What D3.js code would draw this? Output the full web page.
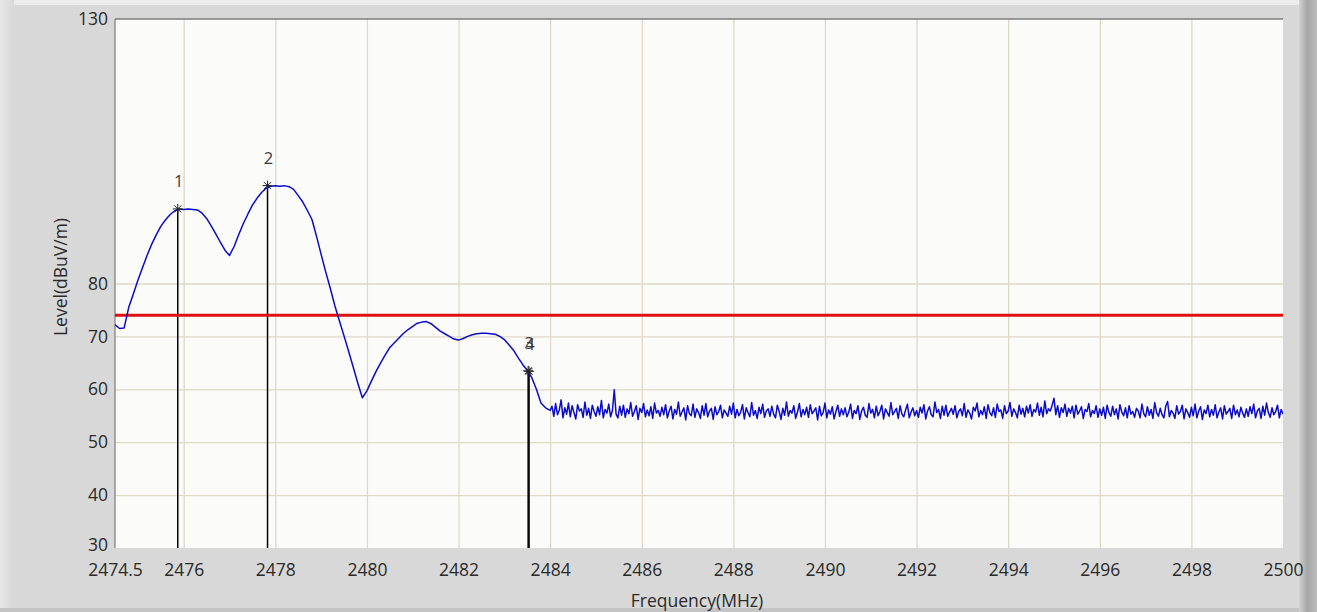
<!DOCTYPE html>
<html>
<head>
<meta charset="utf-8">
<script src="https://cdn.jsdelivr.net/npm/d3@7/dist/d3.min.js"></script>
<style>
  html, body { margin: 0; padding: 0; background: #d8d8d8; }
  svg { display: block; }
  text { font-family: "Open Sans", "DejaVu Sans", sans-serif; }
</style>
</head>
<body>
<svg id="chart" width="1317" height="612"></svg>
<script>
// ---------------- DATA ----------------
const xTickValues = [2474.5, 2476, 2478, 2480, 2482, 2484, 2486, 2488, 2490, 2492, 2494, 2496, 2498, 2500];
const yTickValues = [30, 40, 50, 60, 70, 80, 130];
const xGridValues = [2476, 2478, 2480, 2482, 2484, 2486, 2488, 2490, 2492, 2494, 2496, 2498];
const yGridValues = [40, 50, 60, 70, 80];

const xTitle = "Frequency(MHz)";
const yTitle = "Level(dBuV/m)";

const limitLevel = 74;

// Main signal region, sampled every 0.1 MHz from 2474.5 MHz
const smoothStart = 2474.5;
const smoothStep = 0.1;
const smoothLevels = [
  72.2, 71.5, 71.6, 75.5, 78.0, 80.6, 83.0, 85.3, 87.4, 89.2,
  90.8, 92.0, 93.0, 93.7, 94.1, 94.0, 94.1, 94.0, 93.9, 93.3,
  92.3, 90.9, 89.4, 87.8, 86.3, 85.3, 87.0, 89.2, 91.3, 93.1,
  94.8, 96.1, 97.2, 98.0, 98.4, 98.5, 98.4, 98.5, 98.3, 97.8,
  96.6, 95.4, 93.8, 92.1, 88.9, 85.5, 82.2, 79.1, 75.8, 72.9,
  70.1, 67.2, 64.2, 61.2, 58.4, 59.7, 61.6, 63.4, 65.0, 66.5,
  67.9, 68.8, 69.7, 70.6, 71.3, 71.9, 72.5, 72.7, 72.8, 72.4,
  71.7, 71.0, 70.5, 70.0, 69.5, 69.3, 69.6, 70.0, 70.3, 70.5,
  70.6, 70.6, 70.5, 70.4, 70.0, 69.4, 68.4, 67.4, 66.0, 64.7,
  63.6, 62.2, 60.0, 57.4, 56.5, 56.0
];

// Noise floor, sampled every 0.04 MHz from 2484.04 MHz
const noiseStart = 2484.04;
const noiseStep = 0.04;
const noiseLevels = [
  56.8,54.9,57.3,55.2,56.1,58.0,54.6,56.5,55.3,57.4,54.8,56.9,55.6,54.4,57.1,55.9,56.3,54.7,57.6,55.1,
  56.4,54.5,57.0,55.8,54.9,56.7,55.2,57.9,54.6,56.2,55.5,57.2,54.8,56.0,59.9,55.3,54.6,56.8,55.1,57.0,
  54.7,56.3,55.4,57.5,54.9,55.8,56.9,54.3,56.4,55.6,57.3,54.8,56.1,55.0,56.7,54.5,57.4,55.5,56.0,54.9,
  56.6,55.2,57.1,54.6,55.9,56.8,54.4,56.2,55.3,57.6,54.9,55.7,56.5,54.2,56.9,55.4,55.0,57.2,54.7,56.3,
  55.6,54.5,56.9,55.1,57.3,54.8,55.9,56.4,54.3,56.7,55.2,55.8,57.0,54.6,56.1,55.5,54.9,56.8,55.3,57.4,
  54.6,56.2,55.0,55.7,57.1,54.4,56.5,55.6,54.8,57.5,55.1,56.0,54.5,56.6,55.4,57.2,54.7,55.9,56.3,54.9,
  56.8,55.3,54.6,57.0,55.8,54.3,56.4,55.1,57.6,54.9,56.0,55.5,56.9,54.5,55.7,57.3,54.8,56.2,55.2,56.6,
  54.7,57.1,55.4,55.9,56.5,54.2,56.8,55.0,55.6,57.4,54.6,56.1,55.3,56.7,54.4,55.8,57.0,54.9,56.3,55.2,
  56.5,54.8,55.7,57.2,54.5,56.0,55.4,56.9,54.3,55.9,56.6,55.1,54.7,57.3,55.5,56.2,54.6,56.8,55.0,55.8,
  57.0,54.4,56.3,55.6,54.9,57.5,55.2,55.8,56.4,54.5,56.9,55.3,54.8,56.1,57.2,54.6,55.7,56.5,55.0,56.0,
  54.7,56.6,55.5,57.1,54.4,55.9,56.7,55.2,54.8,57.6,55.6,56.2,54.5,56.8,55.1,57.0,54.9,55.7,56.4,55.3,
  56.9,54.6,55.8,56.3,55.0,57.3,54.7,56.1,55.5,54.4,56.6,55.9,57.4,54.8,56.0,55.2,56.7,54.5,57.1,55.6,
  55.0,56.5,54.7,57.2,55.8,56.1,54.5,56.9,55.4,55.9,57.5,54.9,56.3,55.6,54.6,57.0,55.3,56.4,54.8,56.8,
  55.5,57.1,54.9,56.2,55.7,57.4,55.1,56.6,54.8,57.8,55.4,56.3,55.9,57.0,58.3,55.2,56.9,54.7,56.5,55.6,
  57.2,54.9,56.4,55.5,56.8,54.6,57.0,55.3,55.9,56.7,54.5,56.2,55.8,57.3,54.8,56.0,55.4,56.9,54.7,56.3,
  55.1,56.6,54.5,57.0,55.6,54.9,56.8,55.2,56.3,54.4,57.1,55.7,55.0,56.5,54.6,56.9,55.3,55.8,54.7,56.4,
  55.9,54.6,57.2,55.4,54.8,56.7,55.1,56.2,54.5,57.5,55.6,54.9,56.4,55.2,54.6,56.8,57.7,54.8,56.0,55.5,
  54.5,56.9,55.3,55.8,57.0,54.4,56.3,55.6,54.7,56.6,55.0,57.2,54.6,55.9,56.7,54.3,56.1,55.4,57.0,54.8,
  56.2,55.1,57.1,54.6,55.7,56.5,54.4,56.9,55.3,55.8,56.4,54.5,57.0,55.2,56.1,54.8,56.6,55.5,54.7,56.3,
  54.9,56.7,55.4,57.2,54.6,55.9,56.4,54.5,56.8,55.1,57.4,55.6,54.7,56.5,55.2,55.8,57.0,54.6,56.2,55.3
];

// Markers
const markerLabels = ["1", "2", "3", "4"];
const markerFreqs  = [2475.87, 2477.83, 2483.52, 2483.54];
const markerLevels = [94.1, 98.5, 63.5, 63.4];

// ---------------- DRAW ----------------
const W = 1317, H = 612;
const plot = { left: 115, top: 19, right: 1283, bottom: 548 };

const svg = d3.select("#chart");

// background panel shading
const defs = svg.append("defs");
const gR = defs.append("linearGradient").attr("id", "rightShade").attr("x1", "0").attr("x2", "1");
gR.append("stop").attr("offset", "0").attr("stop-color", "#d2d2d2");
gR.append("stop").attr("offset", "0.45").attr("stop-color", "#a6a6a6");
gR.append("stop").attr("offset", "1").attr("stop-color", "#bdbdbd");
const gL = defs.append("linearGradient").attr("id", "leftShade").attr("x1", "0").attr("x2", "1");
gL.append("stop").attr("offset", "0").attr("stop-color", "#e6e6e6");
gL.append("stop").attr("offset", "1").attr("stop-color", "#d8d8d8");

svg.append("rect").attr("x", 0).attr("y", 0).attr("width", W).attr("height", H).attr("fill", "#d8d8d8");
svg.append("rect").attr("x", 0).attr("y", 0).attr("width", W).attr("height", 5).attr("fill", "#ececec");
svg.append("rect").attr("x", 0).attr("y", 0).attr("width", 14).attr("height", H).attr("fill", "url(#leftShade)");
svg.append("rect").attr("x", 1299).attr("y", 0).attr("width", 18).attr("height", H).attr("fill", "url(#rightShade)");
svg.append("rect").attr("x", 0).attr("y", 608).attr("width", 1299).attr("height", 4).attr("fill", "#c4c4c4");

const x = d3.scaleLinear().domain([2474.5, 2500]).range([plot.left, plot.right]);
const y = d3.scaleLinear().domain([30, 130]).range([plot.bottom, plot.top]);

// plot background
svg.append("rect")
  .attr("x", plot.left).attr("y", plot.top)
  .attr("width", plot.right - plot.left).attr("height", plot.bottom - plot.top)
  .attr("fill", "#fbfbfa");

// gridlines via axes
const gridColor = "#dedac6";
const gx = svg.append("g").attr("transform", `translate(0,${plot.bottom})`)
  .call(d3.axisBottom(x).tickValues(xGridValues).tickSize(-(plot.bottom - plot.top)).tickFormat(""));
gx.select(".domain").remove();
gx.selectAll("line").attr("stroke", gridColor).attr("stroke-width", 1.3);

const gy = svg.append("g").attr("transform", `translate(${plot.left},0)`)
  .call(d3.axisLeft(y).tickValues(yGridValues).tickSize(-(plot.right - plot.left)).tickFormat(""));
gy.select(".domain").remove();
gy.selectAll("line").attr("stroke", gridColor).attr("stroke-width", 1.3);

// frame (left & top)
svg.append("line").attr("x1", plot.left).attr("x2", plot.left).attr("y1", plot.top).attr("y2", plot.bottom)
  .attr("stroke", "#7c7c7c").attr("stroke-width", 1.2);
svg.append("line").attr("x1", plot.left).attr("x2", plot.right).attr("y1", plot.top).attr("y2", plot.top)
  .attr("stroke", "#7c7c7c").attr("stroke-width", 1.5);

// axes labels
const fontSize = 17.5;
const ax = svg.append("g").attr("transform", `translate(0,${plot.bottom})`)
  .call(d3.axisBottom(x).tickValues(xTickValues).tickSize(0).tickPadding(16).tickFormat(d => String(d)));
ax.select(".domain").remove();
ax.selectAll("text").attr("font-size", fontSize).attr("fill", "#2a2a2a")
  .attr("font-family", "'Open Sans', sans-serif");

const ay = svg.append("g").attr("transform", `translate(${plot.left},0)`)
  .call(d3.axisLeft(y).tickValues(yTickValues).tickSize(0).tickPadding(7).tickFormat(d => String(d)));
ay.select(".domain").remove();
ay.selectAll("text").attr("font-size", fontSize).attr("fill", "#2a2a2a")
  .attr("font-family", "'Open Sans', sans-serif")
  .attr("y", d => (d === 30 ? -3 : 0));

// axis titles
svg.append("text").attr("x", 697).attr("y", 600).attr("text-anchor", "middle")
  .attr("dominant-baseline", "central").attr("font-size", 17.5).attr("fill", "#2a2a2a").text(xTitle);
svg.append("text").attr("transform", "translate(60,277) rotate(-90)").attr("text-anchor", "middle")
  .attr("dominant-baseline", "central").attr("font-size", 17.5).attr("fill", "#2a2a2a").text(yTitle);

// clip
defs.append("clipPath").attr("id", "plotClip").append("rect")
  .attr("x", plot.left).attr("y", plot.top).attr("width", plot.right - plot.left).attr("height", plot.bottom - plot.top);

// marker vertical lines
const markers = markerLabels.map((l, i) => ({ label: l, f: markerFreqs[i], v: markerLevels[i] }));
svg.append("g").selectAll("line").data(markers).join("line")
  .attr("x1", d => x(d.f)).attr("x2", d => x(d.f))
  .attr("y1", d => y(d.v)).attr("y2", y(30))
  .attr("stroke", "#000").attr("stroke-width", 1.5);

// limit line
svg.append("line").attr("x1", plot.left).attr("x2", plot.right)
  .attr("y1", y(limitLevel)).attr("y2", y(limitLevel))
  .attr("stroke", "#e01010").attr("stroke-width", 3);

// trace
const trace = smoothLevels.map((v, i) => ({ f: smoothStart + i * smoothStep, v }))
  .concat(noiseLevels.map((v, i) => ({ f: noiseStart + i * noiseStep, v })));
const line = d3.line().x(d => x(d.f)).y(d => y(d.v));
svg.append("path").datum(trace).attr("clip-path", "url(#plotClip)")
  .attr("d", line).attr("fill", "none").attr("stroke", "#0c0cc8").attr("stroke-width", 1.5)
  .attr("stroke-linejoin", "round");

// marker symbols
const star = "M-5,0L5,0M0,-5L0,5M-3.5,-3.5L3.5,3.5M-3.5,3.5L3.5,-3.5";
svg.append("g").selectAll("path").data(markers).join("path")
  .attr("transform", d => `translate(${x(d.f)},${y(d.v)})`)
  .attr("d", star).attr("stroke", "#222").attr("stroke-width", 1).attr("fill", "none");

// marker labels
svg.append("g").selectAll("text").data(markers).join("text")
  .attr("x", d => x(d.f) + 1).attr("y", d => y(d.v) - 28)
  .attr("text-anchor", "middle").attr("dominant-baseline", "central")
  .attr("font-size", 16.5).attr("fill", "#3a3a3a").text(d => d.label);
</script>
</body>
</html>
